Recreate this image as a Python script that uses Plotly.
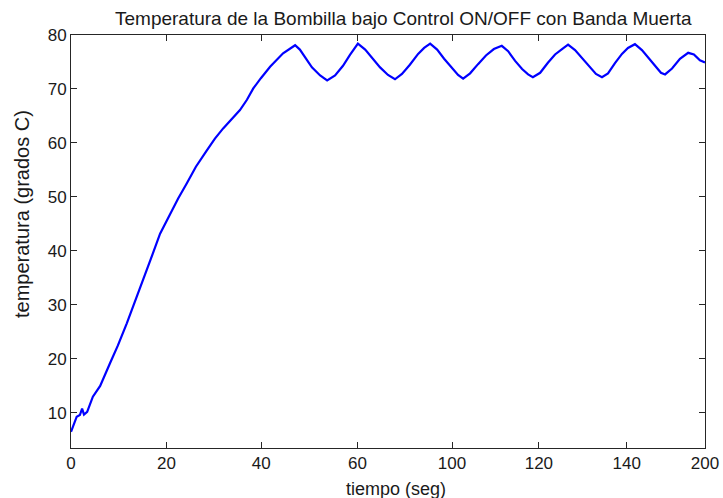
import plotly.graph_objects as go

# x positions on the axis' linear scale (0..200 spans the plot width)
tiempo = [0.0, 1.0, 1.8, 2.8, 3.5, 4.1, 5.1, 6.9, 9.2, 12.3, 14.8, 17.6, 20.2, 22.8, 25.6,
          28.1, 30.2, 31.2, 33.8, 36.5, 39.4, 42.8, 45.4, 48.0, 50.8, 53.3, 55.5, 57.5,
          59.9, 62.8, 66.9, 69.1, 70.7, 72.2, 73.8, 76.0, 78.6, 80.8, 83.3, 85.8, 88.0,
          90.5, 92.8, 95.0, 97.5, 100.0, 102.2, 104.4, 106.9, 109.5, 111.4, 113.3, 115.5,
          117.7, 119.9, 122.1, 123.7, 125.9, 128.4, 130.9, 133.4, 135.9, 137.9, 140.1,
          142.3, 144.2, 145.7, 148.0, 150.5, 152.7, 154.9, 156.8, 159.0, 161.2, 163.4,
          165.6, 167.5, 169.4, 171.6, 173.8, 175.7, 177.9, 180.1, 182.3, 184.6, 186.1,
          187.4, 189.6, 192.1, 194.7, 196.5, 198.4, 200.0]
temperatura = [6.5, 8.0, 9.3, 9.6, 10.8, 9.7, 10.2, 13.0, 15.0, 19.2, 22.5, 26.6, 30.6, 34.9,
               39.2, 43.2, 45.7, 46.6, 49.7, 52.5, 55.6, 58.6, 60.8, 62.7, 64.6, 66.1, 68.0,
               70.1, 72.0, 74.1, 76.6, 77.5, 78.1, 77.3, 75.8, 74.0, 72.5, 71.6, 72.5, 74.3,
               76.3, 78.4, 77.3, 75.8, 74.0, 72.6, 71.8, 72.8, 74.5, 76.5, 77.6, 78.4, 77.3,
               75.6, 74.0, 72.6, 71.9, 72.9, 74.6, 76.2, 77.4, 78.0, 77.0, 75.2, 73.7, 72.7,
               72.2, 73.0, 74.9, 76.4, 77.4, 78.2, 77.2, 75.8, 74.2, 72.8, 72.2, 72.9, 74.8,
               76.5, 77.6, 78.3, 77.2, 75.6, 74.0, 73.0, 72.7, 73.8, 75.6, 76.7, 76.4, 75.3,
               74.9]

x_tick_vals = [0, 30.1, 60.0, 90.4, 120.2, 147.6, 175.3, 200]
x_tick_text = ["0", "20", "40", "60", "100", "120", "140", "200"]
y_tick_vals = [10, 20, 30, 40, 50, 60, 70, 80]
y_tick_text = ["10", "20", "30", "40", "50", "60", "70", "80"]

font_family = "Liberation Sans, Arial, sans-serif"
axis_color = "#262626"
text_color = "#1a1a1a"

W, H = 723, 498
L, R, T, B = 71, 18, 35, 50
PW, PH = W - L - R, H - T - B

fig = go.Figure()
fig.add_trace(go.Scatter(x=tiempo, y=temperatura, mode="lines",
                         line=dict(color="#0000ff", width=2.2), showlegend=False))

fig.update_layout(
    width=W, height=H,
    autosize=False,
    margin=dict(l=L, r=R, t=T, b=B, autoexpand=False),
    paper_bgcolor="white", plot_bgcolor="white",
    font=dict(family=font_family, size=16, color=text_color),
    annotations=[
        dict(text="Temperatura de la Bombilla bajo Control ON/OFF con Banda Muerta",
             xref="paper", yref="paper",
             x=(403.5 - L) / PW, y=1 + (T - 18) / PH,
             xanchor="center", yanchor="middle", showarrow=False,
             font=dict(family=font_family, size=19, color=text_color)),
        dict(text="tiempo (seg)", xref="paper", yref="paper",
             x=(396 - L) / PW, y=-(489 - (H - B)) / PH,
             xanchor="center", yanchor="middle", showarrow=False,
             font=dict(family=font_family, size=18, color=text_color)),
        dict(text="temperatura (grados C)", xref="paper", yref="paper",
             x=-(L - 22) / PW, y=1 - (214 - T) / PH,
             xanchor="center", yanchor="middle", showarrow=False, textangle=-90,
             font=dict(family=font_family, size=20, color=text_color)),
    ],
)
fig.update_xaxes(range=[0, 200], tickmode="array", tickvals=x_tick_vals, ticktext=x_tick_text,
                 ticks="inside", ticklen=6, tickcolor=axis_color, showgrid=False,
                 zeroline=False, showline=True, linecolor=axis_color, linewidth=1,
                 mirror="ticks", automargin=False,
                 tickfont=dict(family=font_family, size=17, color=text_color))
fig.update_yaxes(range=[3.5, 80], tickmode="array", tickvals=y_tick_vals, ticktext=y_tick_text,
                 ticks="inside", ticklen=6, tickcolor=axis_color, showgrid=False,
                 zeroline=False, showline=True, linecolor=axis_color, linewidth=1,
                 mirror="ticks", automargin=False,
                 tickfont=dict(family=font_family, size=17, color=text_color))

fig.write_html("out.html")
